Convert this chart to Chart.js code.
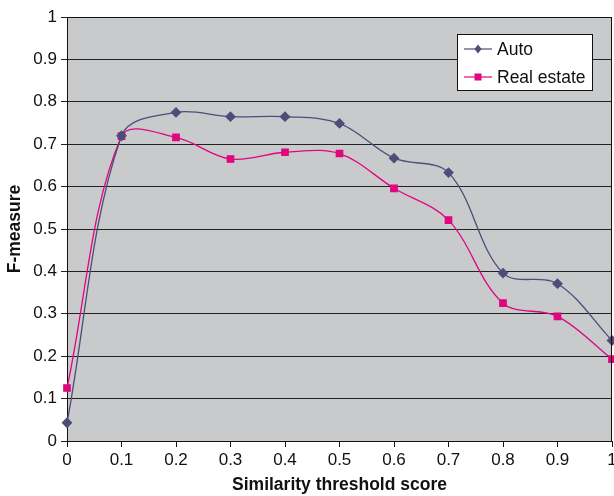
<!DOCTYPE html>
<html>
<head>
<meta charset="utf-8">
<script src="https://cdn.jsdelivr.net/npm/chart.js@4/dist/chart.umd.min.js"></script>
<style>
  html, body { margin: 0; padding: 0; background: #fff; }
  #wrap { width: 614px; height: 496px; }
</style>
</head>
<body>
<div id="wrap"><canvas id="fChart" width="614" height="496"></canvas></div>
<script>
// values
const thresholds = [0, 0.1, 0.2, 0.3, 0.4, 0.5, 0.6, 0.7, 0.8, 0.9, 1];
const autoScores = [0.043, 0.72, 0.775, 0.765, 0.765, 0.749, 0.667, 0.633, 0.396, 0.371, 0.237];
const realEstateScores = [0.125, 0.719, 0.716, 0.665, 0.681, 0.678, 0.596, 0.521, 0.325, 0.294, 0.193];
const seriesNames = ['Auto', 'Real estate'];

const toPoints = vals => thresholds.map((x, i) => ({x: x, y: vals[i]}));
const fmtTick = v => String(parseFloat(v.toFixed(1)));

// grey plot background + top/right frame
const plotFrame = {
  id: 'plotFrame',
  beforeDraw(chart) {
    const {ctx, chartArea: a} = chart;
    ctx.save();
    ctx.fillStyle = '#c9cacc';
    ctx.fillRect(a.left, a.top, a.right - a.left, a.bottom - a.top);
    ctx.restore();
  },
  afterDraw(chart) {
    const {ctx, chartArea: a} = chart;
    ctx.save();
    ctx.lineWidth = 1;
    ctx.strokeStyle = '#111';
    ctx.beginPath();
    ctx.moveTo(a.left, a.top + 0.5);
    ctx.lineTo(a.right, a.top + 0.5);
    ctx.stroke();
    ctx.beginPath();
    ctx.moveTo(a.right - 0.5, a.top);
    ctx.lineTo(a.right - 0.5, a.bottom);
    ctx.stroke();
    ctx.restore();
  }
};

// boxed legend inside the plot, top right
const boxLegend = {
  id: 'boxLegend',
  afterDatasetsDraw(chart) {
    const {ctx, chartArea: a} = chart;
    const x = a.left + 390, y = a.top + 17, w = 135, h = 56;
    ctx.save();
    ctx.fillStyle = '#fff';
    ctx.fillRect(x, y, w, h);
    ctx.strokeStyle = '#111';
    ctx.lineWidth = 1;
    ctx.strokeRect(x + 0.5, y + 0.5, w, h);
    ctx.font = '17.5px "Liberation Sans", Arial, sans-serif';
    ctx.textBaseline = 'middle';
    chart.data.datasets.forEach((ds, i) => {
      const cy = y + 15 + i * 28;
      ctx.strokeStyle = ds.borderColor;
      ctx.lineWidth = 1.2;
      ctx.beginPath();
      ctx.moveTo(x + 7, cy);
      ctx.lineTo(x + 35, cy);
      ctx.stroke();
      ctx.fillStyle = ds.pointBackgroundColor;
      const cx = x + 21;
      if (ds.pointStyle === 'rectRot') {
        ctx.beginPath();
        ctx.moveTo(cx, cy - 4.5);
        ctx.lineTo(cx + 3.5, cy);
        ctx.lineTo(cx, cy + 4.5);
        ctx.lineTo(cx - 3.5, cy);
        ctx.closePath();
        ctx.fill();
      } else {
        ctx.fillRect(cx - 3.5, cy - 3.5, 7, 7);
      }
      ctx.fillStyle = '#111';
      ctx.fillText(ds.label, x + 40, cy + 1);
    });
    ctx.restore();
  }
};

const tickFont = {family: '"Liberation Sans", Arial, sans-serif', size: 17};
const titleFont = {family: '"Liberation Sans", Arial, sans-serif', size: 17.5, weight: 'bold'};

new Chart(document.getElementById('fChart').getContext('2d'), {
  type: 'line',
  data: {
    datasets: [
      {
        label: seriesNames[0],
        data: toPoints(autoScores),
        borderColor: '#514b78',
        backgroundColor: '#514b78',
        pointBackgroundColor: '#514b78',
        pointBorderColor: '#514b78',
        pointStyle: 'rectRot',
        pointRadius: 4.5,
        borderWidth: 1.3,
        tension: 0.35,
        clip: 8
      },
      {
        label: seriesNames[1],
        data: toPoints(realEstateScores),
        borderColor: '#e0067f',
        backgroundColor: '#e0067f',
        pointBackgroundColor: '#e0067f',
        pointBorderColor: '#e0067f',
        pointStyle: 'rect',
        pointRadius: 4.5,
        borderWidth: 1.3,
        tension: 0.35,
        clip: 8
      }
    ]
  },
  options: {
    responsive: false,
    animation: false,
    layout: {autoPadding: false, padding: {top: 17, right: 2, left: 0, bottom: 0}},
    plugins: {legend: {display: false}, tooltip: {enabled: false}},
    scales: {
      x: {
        type: 'linear',
        min: 0,
        max: 1,
        ticks: {stepSize: 0.1, color: '#111', font: tickFont, padding: 3, maxRotation: 0, callback: fmtTick},
        grid: {drawOnChartArea: false, color: '#111', tickLength: 6},
        border: {color: '#111', width: 1},
        title: {display: true, text: 'Similarity threshold score', color: '#111', font: titleFont, padding: {top: 4, bottom: 0}},
        afterFit(scale) {
          scale.height = 55;
          scale.paddingLeft = 0;
          scale.paddingRight = 0;
        }
      },
      y: {
        min: 0,
        max: 1,
        ticks: {stepSize: 0.1, color: '#111', font: tickFont, padding: 4, callback: fmtTick},
        grid: {color: '#222', lineWidth: 1, tickLength: 6},
        border: {color: '#111', width: 1},
        title: {display: true, text: 'F-measure', color: '#111', font: titleFont, padding: {top: 5, bottom: 0}},
        afterFit(scale) {
          scale.width = 67;
          scale.paddingTop = 0;
          scale.paddingBottom = 0;
        }
      }
    }
  },
  plugins: [plotFrame, boxLegend]
});
</script>
</body>
</html>
